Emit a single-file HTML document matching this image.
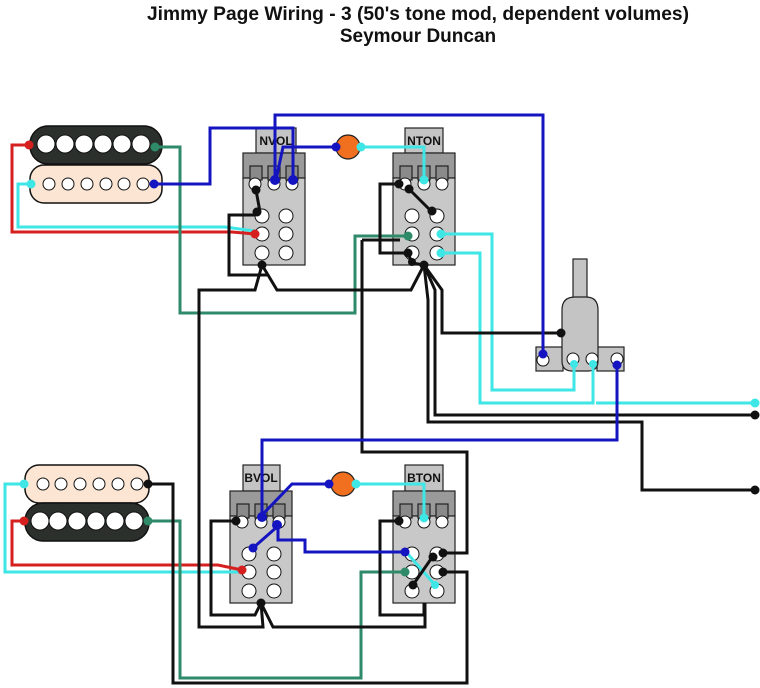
<!DOCTYPE html>
<html><head><meta charset="utf-8"><style>
html,body{margin:0;padding:0;background:#fff;}
svg{display:block;}
text{font-family:"Liberation Sans",Arial,sans-serif;font-weight:bold;}
</style></head><body>
<svg width="760" height="688" viewBox="0 0 760 688" xmlns="http://www.w3.org/2000/svg">
<rect width="760" height="688" fill="#fff"/>
<text x="418" y="20" font-size="19" text-anchor="middle" fill="#111" textLength="542" lengthAdjust="spacingAndGlyphs">Jimmy Page Wiring - 3 (50's tone mod, dependent volumes)</text>
<text x="418" y="42" font-size="19" text-anchor="middle" fill="#111">Seymour Duncan</text>

<!-- Pickups -->
<g stroke="#111" stroke-width="1.5">
 <rect x="30" y="126" width="132" height="38" rx="18" fill="#2b302c"/>
 <rect x="30" y="165" width="132" height="38" rx="14" fill="#fce6d3"/>
 <rect x="25" y="465" width="124" height="38" rx="14" fill="#fce6d3"/>
 <rect x="25" y="503" width="124" height="38" rx="18" fill="#2b302c"/>
</g>
<g fill="#fff" stroke="#111" stroke-width="1">
 <circle cx="46" cy="144" r="9"/><circle cx="65" cy="144" r="9"/><circle cx="84" cy="144" r="9"/><circle cx="103" cy="144" r="9"/><circle cx="122" cy="144" r="9"/><circle cx="141" cy="144" r="9"/>
 <circle cx="49" cy="184" r="6"/><circle cx="68" cy="184" r="6"/><circle cx="87" cy="184" r="6"/><circle cx="106" cy="184" r="6"/><circle cx="124" cy="184" r="6"/><circle cx="143" cy="184" r="6"/>
 <circle cx="43" cy="484" r="6"/><circle cx="61" cy="484" r="6"/><circle cx="80" cy="484" r="6"/><circle cx="99" cy="484" r="6"/><circle cx="118" cy="484" r="6"/><circle cx="137" cy="484" r="6"/>
 <circle cx="40" cy="521" r="9"/><circle cx="58" cy="521" r="9"/><circle cx="77" cy="521" r="9"/><circle cx="96" cy="521" r="9"/><circle cx="115" cy="521" r="9"/><circle cx="134" cy="521" r="9"/>
</g>

<!-- Pots -->
<g stroke="#222" stroke-width="1.2">
 <rect x="256" y="128" width="40" height="25" fill="#c4c4c4"/>
 <rect x="243" y="153" width="62" height="25" fill="#9a9a9a"/>
 <rect x="243" y="178" width="62" height="87" fill="#c8c8c8"/>
 <rect x="250" y="166" width="12" height="14" fill="#8a8a8a"/><rect x="268" y="166" width="12" height="14" fill="#8a8a8a"/><rect x="286" y="166" width="12" height="14" fill="#8a8a8a"/>
 <rect x="405" y="128" width="38" height="25" fill="#c4c4c4"/>
 <rect x="393" y="153" width="62" height="25" fill="#9a9a9a"/>
 <rect x="393" y="178" width="62" height="87" fill="#c8c8c8"/>
 <rect x="400" y="166" width="12" height="14" fill="#8a8a8a"/><rect x="418" y="166" width="12" height="14" fill="#8a8a8a"/><rect x="436" y="166" width="12" height="14" fill="#8a8a8a"/>
 <rect x="243" y="465" width="37" height="26" fill="#c4c4c4"/>
 <rect x="230" y="491" width="62" height="25" fill="#9a9a9a"/>
 <rect x="230" y="516" width="62" height="87" fill="#c8c8c8"/>
 <rect x="237" y="504" width="12" height="14" fill="#8a8a8a"/><rect x="255" y="504" width="12" height="14" fill="#8a8a8a"/><rect x="273" y="504" width="12" height="14" fill="#8a8a8a"/>
 <rect x="405" y="465" width="38" height="26" fill="#c4c4c4"/>
 <rect x="393" y="491" width="62" height="25" fill="#9a9a9a"/>
 <rect x="393" y="516" width="62" height="87" fill="#c8c8c8"/>
 <rect x="400" y="504" width="12" height="14" fill="#8a8a8a"/><rect x="418" y="504" width="12" height="14" fill="#8a8a8a"/><rect x="436" y="504" width="12" height="14" fill="#8a8a8a"/>
</g>
<g fill="#fff" stroke="#111" stroke-width="1">
 <circle cx="255" cy="184" r="6"/><circle cx="274" cy="184" r="6"/><circle cx="292" cy="184" r="6"/>
 <circle cx="262" cy="216" r="7"/><circle cx="286" cy="216" r="7"/><circle cx="262" cy="234" r="7"/><circle cx="286" cy="234" r="7"/><circle cx="262" cy="253" r="7"/><circle cx="286" cy="253" r="7"/>
 <circle cx="405" cy="184" r="6"/><circle cx="424" cy="184" r="6"/><circle cx="442" cy="184" r="6"/>
 <circle cx="412" cy="216" r="7"/><circle cx="437" cy="216" r="7"/><circle cx="412" cy="234" r="7"/><circle cx="437" cy="234" r="7"/><circle cx="412" cy="253" r="7"/><circle cx="437" cy="253" r="7"/>
 <circle cx="242" cy="522" r="6"/><circle cx="261" cy="522" r="6"/><circle cx="279" cy="522" r="6"/>
 <circle cx="249" cy="554" r="7"/><circle cx="274" cy="554" r="7"/><circle cx="249" cy="572" r="7"/><circle cx="274" cy="572" r="7"/><circle cx="249" cy="591" r="7"/><circle cx="274" cy="591" r="7"/>
 <circle cx="405" cy="522" r="6"/><circle cx="424" cy="522" r="6"/><circle cx="442" cy="522" r="6"/>
 <circle cx="412" cy="554" r="7"/><circle cx="437" cy="554" r="7"/><circle cx="412" cy="572" r="7"/><circle cx="437" cy="572" r="7"/><circle cx="412" cy="591" r="7"/><circle cx="437" cy="591" r="7"/>
</g>
<g font-size="12" fill="#111" text-anchor="middle">
 <text x="276" y="145">NVOL</text><text x="424" y="145">NTON</text>
 <text x="261" y="482">BVOL</text><text x="424" y="482">BTON</text>
</g>

<!-- Switch -->
<g stroke="#222" stroke-width="1.2" fill="#c4c4c4">
 <rect x="573" y="259" width="14" height="40"/>
 <rect x="536" y="347" width="27" height="24"/>
 <rect x="597" y="347" width="27" height="24"/>
 <path d="M562 310 Q562 297 575 297 L586 297 Q598 297 598 310 L598 361 Q598 371 588 371 L572 371 Q562 371 562 361 Z"/>
</g>
<g fill="#fff" stroke="#111" stroke-width="1">
 <circle cx="543" cy="360" r="6"/><circle cx="573" cy="359" r="6"/><circle cx="592" cy="359" r="6"/><circle cx="617" cy="359" r="6"/>
</g>

<!-- Wires -->
<g fill="none" stroke-width="3" stroke-linejoin="miter">
 <path d="M29 145 H12 V232 H232 L255 234" stroke="#d62020"/>
 <path d="M24 521 H12 V565 H218 L242 570" stroke="#d62020"/>
 <path d="M31 184 H18 V227 H225 L255 231" stroke="#3ee6e6"/>
 <path d="M24 484 H5 V572 H242" stroke="#3ee6e6"/>
 <path d="M361 147 H424 V180" stroke="#3ee6e6"/>
 <path d="M356 484 H424 V516" stroke="#3ee6e6"/>
 <path d="M437 234 H492 V390 H574 V362" stroke="#3ee6e6"/>
 <path d="M437 253 H480 V403 H593 V362 M596 403 H755" stroke="#3ee6e6"/>
 <path d="M407 553 L435 585" stroke="#3ee6e6"/>
 <path d="M155 147 H180 V313 H355 V236 H408" stroke="#2e8a68"/>
 <path d="M148 521 H180 V678 H361 V572 H405" stroke="#2e8a68"/>
 <g stroke="#111">
  <path d="M256 190 L260 212"/>
  <path d="M255 215 H229 V275 H268 L262 265 L277 290 H411 L424 265"/>
  <path d="M262 265 L255 290 H199 V627 H263 L261 603 L273 627 H425 V603"/>
  <path d="M398 184 H380 V253 H408 L412 263 L424 265"/>
  <path d="M409 189 L432 212"/>
  <path d="M362 240 H400 M362 240 V452 H467 V553 H443"/>
  <path d="M424 265 L442 290 V333 H561"/>
  <path d="M424 265 L435 290 V415 H755"/>
  <path d="M424 265 L428 300 V422 H642 V490 H755"/>
  <path d="M236 521 H211 V615 H255 L261 603"/>
  <path d="M399 521 H380 V615 H424 V603"/>
  <path d="M443 572 H467 V683 H173 V484 H148"/>
  <path d="M433 556 L413 585"/>
 </g>
 <g stroke="#1414c0">
  <path d="M154 184 H210 V128 H293 V180"/>
  <path d="M275 180 V115 H543 V352"/>
  <path d="M336 147 H283 L276 180"/>
  <path d="M617 365 V440 H262 V518"/>
  <path d="M329 484 H292 L262 515"/>
  <path d="M278 526 L253 548"/>
  <path d="M278 526 V540 H305 V552 H405"/>
 </g>
</g>

<circle cx="348" cy="147" r="12" fill="#f07020" stroke="#222" stroke-width="1.2"/>
<circle cx="343" cy="484" r="12" fill="#f07020" stroke="#222" stroke-width="1.2"/>

<g>
 <circle cx="29" cy="145" r="4.5" fill="#d62020"/><circle cx="255" cy="234" r="4.5" fill="#d62020"/>
 <circle cx="24" cy="521" r="4.5" fill="#d62020"/><circle cx="242" cy="570" r="4.5" fill="#d62020"/>
 <circle cx="31" cy="184" r="4.5" fill="#3ee6e6"/><circle cx="24" cy="484" r="4.5" fill="#3ee6e6"/>
 <circle cx="361" cy="147" r="4.5" fill="#3ee6e6"/><circle cx="424" cy="180" r="4.5" fill="#3ee6e6"/>
 <circle cx="356" cy="484" r="4.5" fill="#3ee6e6"/><circle cx="424" cy="518" r="4.5" fill="#3ee6e6"/>
 <circle cx="441" cy="234" r="4.5" fill="#3ee6e6"/><circle cx="441" cy="253" r="4.5" fill="#3ee6e6"/>
 <circle cx="574" cy="364" r="4" fill="#3ee6e6"/><circle cx="593" cy="364" r="4" fill="#3ee6e6"/>
 <circle cx="755" cy="403" r="4.5" fill="#3ee6e6"/><circle cx="435" cy="585" r="4" fill="#3ee6e6"/>
 <circle cx="155" cy="147" r="4.5" fill="#2e8a68"/><circle cx="148" cy="521" r="4.5" fill="#2e8a68"/>
 <circle cx="408" cy="236" r="4.5" fill="#2e8a68"/><circle cx="405" cy="572" r="4.5" fill="#2e8a68"/>
 <circle cx="154" cy="184" r="4.5" fill="#1414c0"/><circle cx="336" cy="147" r="4.5" fill="#1414c0"/>
 <circle cx="275" cy="180" r="5" fill="#1414c0"/><circle cx="293" cy="180" r="5" fill="#1414c0"/>
 <circle cx="543" cy="354" r="4.5" fill="#1414c0"/><circle cx="617" cy="365" r="4.5" fill="#1414c0"/>
 <circle cx="329" cy="484" r="4.5" fill="#1414c0"/><circle cx="262" cy="517" r="5" fill="#1414c0"/>
 <circle cx="277" cy="525" r="5" fill="#1414c0"/><circle cx="253" cy="548" r="4.5" fill="#1414c0"/>
 <circle cx="405" cy="552" r="4.5" fill="#1414c0"/>
 <g fill="#111">
  <circle cx="148" cy="484" r="4.5"/><circle cx="256" cy="190" r="4.5"/><circle cx="257" cy="212" r="4.5"/>
  <circle cx="262" cy="265" r="4.5"/><circle cx="424" cy="265" r="4.5"/>
  <circle cx="399" cy="184" r="4.5"/><circle cx="409" cy="189" r="4.5"/><circle cx="432" cy="211" r="4.5"/>
  <circle cx="408" cy="253" r="4.5"/><circle cx="412" cy="262" r="4"/>
  <circle cx="561" cy="333" r="4.5"/><circle cx="755" cy="415" r="4.5"/><circle cx="755" cy="490" r="4.5"/>
  <circle cx="236" cy="521" r="4.5"/><circle cx="261" cy="603" r="4.5"/>
  <circle cx="399" cy="521" r="4.5"/><circle cx="443" cy="553" r="4.5"/><circle cx="443" cy="572" r="4.5"/>
  <circle cx="433" cy="557" r="4.5"/><circle cx="413" cy="585" r="4.5"/>
 </g>
</g>
</svg>
</body></html>
